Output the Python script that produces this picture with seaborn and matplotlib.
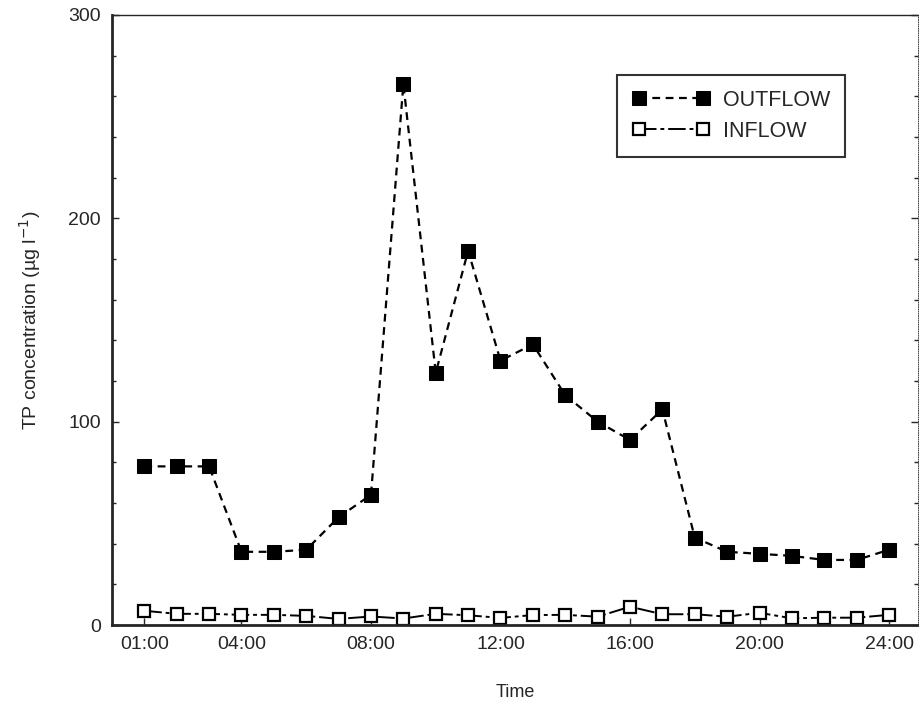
import matplotlib
matplotlib.use("Agg")
import matplotlib.pyplot as plt
from matplotlib.ticker import MultipleLocator
import pandas as pd
import seaborn as sns

# hourly TP concentration
hours = list(range(1, 25))
outflow = [78, 78, 78, 36, 36, 37, 53, 64, 266, 124, 184, 130, 138, 113, 100, 91,
           106, 43, 36, 35, 34, 32, 32, 37]
inflow = [7, 5.5, 5.5, 5, 5, 4.5, 3, 4.2, 3.2, 5.5, 4.8, 3.5, 4.9, 5, 4.1, 9,
          5.3, 5.3, 4.1, 6, 3.3, 3.6, 3.6, 5]
tick_hours = [1, 4, 8, 12, 16, 20, 24]
tick_labels = ['01:00', '04:00', '08:00', '12:00', '16:00', '20:00', '24:00']

df = pd.DataFrame({'hour': hours, 'OUTFLOW': outflow, 'INFLOW': inflow})

sns.set_style('ticks')
plt.rcParams['font.family'] = ['Liberation Sans', 'DejaVu Sans']

fig = plt.figure(figsize=(9.2, 7.08), dpi=100)
ax = fig.add_axes([0.1217, 0.1172, 0.8763, 0.8618])

sns.lineplot(data=df, x='hour', y='OUTFLOW', ax=ax, color='black', lw=1.6,
             linestyle=(0, (3.5, 2.5)), marker='s', markersize=10,
             markerfacecolor='black', markeredgecolor='black', label='OUTFLOW')
sns.lineplot(data=df, x='hour', y='INFLOW', ax=ax, color='black', lw=1.4,
             linestyle=(0, (9, 2, 2, 2)), marker='s', markersize=9,
             markerfacecolor='white', markeredgecolor='black', markeredgewidth=1.6,
             label='INFLOW')

ax.set_xlim(0, 24.9)
ax.set_ylim(0, 300)
ax.set_xticks(tick_hours)
ax.set_xticklabels(tick_labels)
ax.set_yticks([0, 100, 200, 300])
ax.yaxis.set_minor_locator(MultipleLocator(20))
ax.tick_params(axis='both', which='major', direction='in', length=5, width=1,
               labelsize=14, pad=8)
ax.tick_params(axis='y', which='minor', direction='in', length=3, width=1,
               left=True, right=True)
ax.tick_params(axis='y', which='major', right=True)

for side in ['left', 'bottom']:
    ax.spines[side].set_linewidth(2)
ax.spines['top'].set_linewidth(1)
ax.spines['right'].set_linewidth(0.6)
ax.spines['right'].set_linestyle(':')

ax.set_xlabel('Time', fontsize=13, labelpad=22)
ax.set_ylabel('TP concentration (µg l$^{-1}$)', fontsize=14, labelpad=18)

leg = ax.legend(loc='upper left', bbox_to_anchor=(0.6266, 0.9016), numpoints=2,
                fontsize=15.5, frameon=True, fancybox=False, handlelength=3.6,
                handletextpad=0.6, borderpad=0.7, labelspacing=0.45,
                borderaxespad=0)
leg.get_frame().set_edgecolor('black')
leg.get_frame().set_linewidth(1.5)

fig.savefig('out.png', dpi=100)
